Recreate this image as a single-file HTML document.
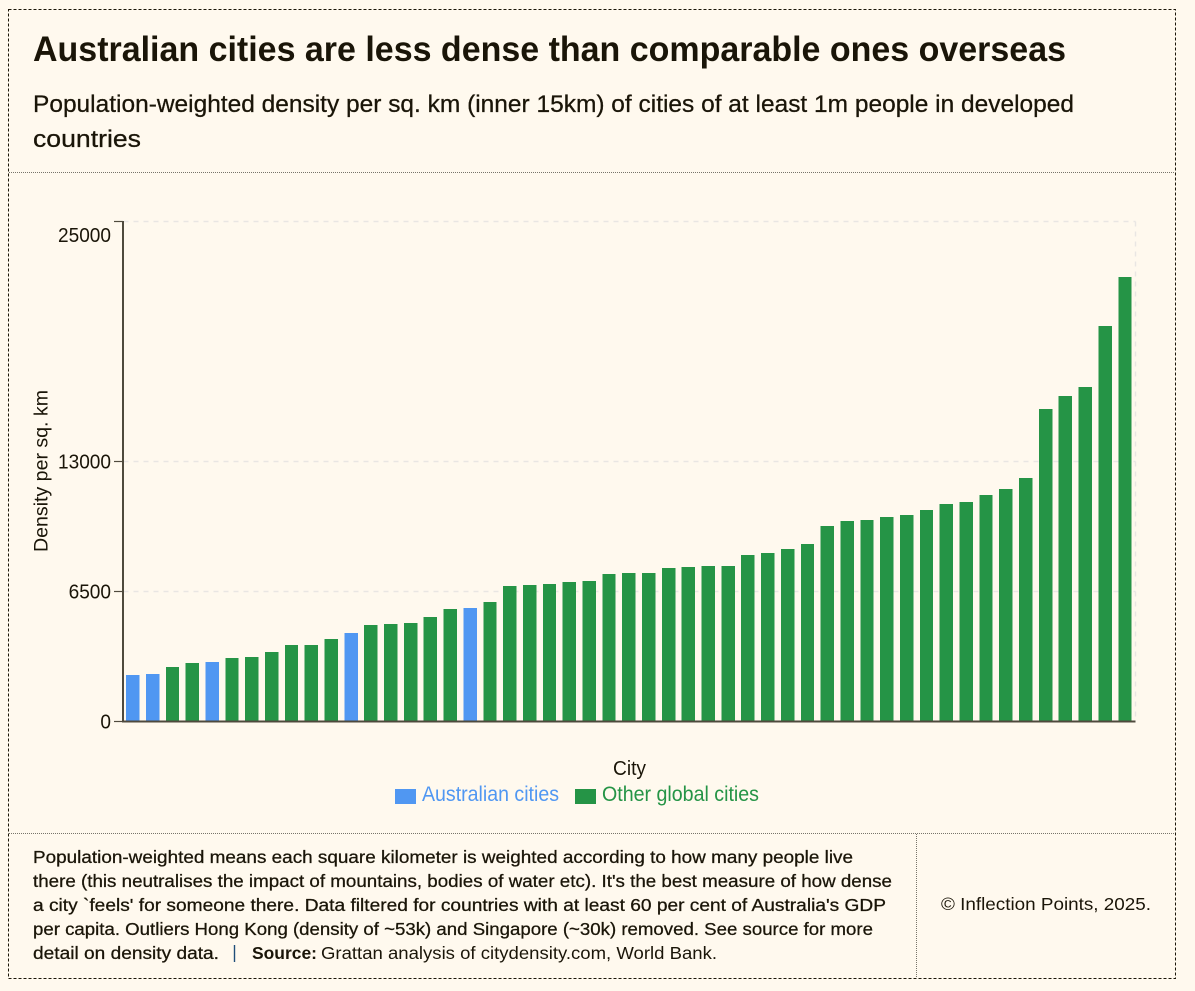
<!DOCTYPE html>
<html lang="en">
<head>
<meta charset="utf-8">
<title>Australian cities are less dense than comparable ones overseas</title>
<style>
html,body{margin:0;padding:0;background:#fff9ee;width:1195px;height:991px;overflow:hidden}
svg{display:block}
text{font-family:"Liberation Sans",sans-serif;fill:#1a1508}
.med{stroke:#1a1508;stroke-width:.28px}
</style>
</head>
<body>
<svg id="page" xmlns="http://www.w3.org/2000/svg" width="1195" height="991" viewBox="0 0 1195 991">
  <rect x="0" y="0" width="1195" height="991" fill="#fff9ee"/>
  <rect x="8.5" y="9.5" width="1167" height="969" fill="none" stroke="#1a1508" stroke-width="1" stroke-dasharray="3 2"/>
  <line x1="9" x2="1175" y1="172.5" y2="172.5" stroke="#77746a" stroke-width="1" stroke-dasharray="1 1"/>
  <line x1="9" x2="1175" y1="833.5" y2="833.5" stroke="#77746a" stroke-width="1" stroke-dasharray="1 1"/>
  <line x1="916.5" x2="916.5" y1="834" y2="978" stroke="#77746a" stroke-width="1" stroke-dasharray="1 1"/>

  <text x="33" y="61" font-size="35" font-weight="700" textLength="1033" lengthAdjust="spacingAndGlyphs">Australian cities are less dense than comparable ones overseas</text>
  <text class="med" x="33" y="112" font-size="24.5" textLength="1041" lengthAdjust="spacingAndGlyphs">Population-weighted density per sq. km (inner 15km) of cities of at least 1m people in developed</text>
  <text class="med" x="33" y="147" font-size="24.5" textLength="108" lengthAdjust="spacingAndGlyphs">countries</text>

  <g id="grid"></g>
  <g id="bars"></g>
  <g id="axes"></g>

  <text transform="translate(47.5,471) rotate(-90)" text-anchor="middle" font-size="19.5" textLength="162" lengthAdjust="spacingAndGlyphs">Density per sq. km</text>
  <text x="613" y="775" font-size="20" textLength="33" lengthAdjust="spacingAndGlyphs">City</text>

  <g>
    <rect x="395" y="789" width="21" height="15" fill="#5097f2"/>
    <text x="422" y="801" font-size="21" style="fill:#5097f2" textLength="137" lengthAdjust="spacingAndGlyphs">Australian cities</text>
    <rect x="575" y="789" width="21" height="15" fill="#259446"/>
    <text x="602" y="801" font-size="21" style="fill:#259446" textLength="157" lengthAdjust="spacingAndGlyphs">Other global cities</text>
  </g>

  <g font-size="17.6">
    <text class="med" x="33" y="863" textLength="820" lengthAdjust="spacingAndGlyphs">Population-weighted means each square kilometer is weighted according to how many people live</text>
    <text class="med" x="33" y="887" textLength="859" lengthAdjust="spacingAndGlyphs">there (this neutralises the impact of mountains, bodies of water etc). It's the best measure of how dense</text>
    <text class="med" x="33" y="911" textLength="853" lengthAdjust="spacingAndGlyphs">a city `feels' for someone there. Data filtered for countries with at least 60 per cent of Australia's GDP</text>
    <text class="med" x="33" y="935" textLength="840" lengthAdjust="spacingAndGlyphs">per capita. Outliers Hong Kong (density of ~53k) and Singapore (~30k) removed. See source for more</text>
    <text class="med" x="33" y="959" textLength="186" lengthAdjust="spacingAndGlyphs">detail on density data.</text>
    <line x1="234.5" x2="234.5" y1="945" y2="962" stroke="#1f4e79" stroke-width="1.4"/>
    <text x="252" y="959" font-weight="700" textLength="65" lengthAdjust="spacingAndGlyphs">Source:</text>
    <text x="321" y="959" textLength="396" lengthAdjust="spacingAndGlyphs">Grattan analysis of citydensity.com, World Bank.</text>
  </g>
  <text x="941" y="910" font-size="17.6" textLength="210" lengthAdjust="spacingAndGlyphs">© Inflection Points, 2025.</text>
</svg>
<script>
var densityValues = [2325,2375,2725,2925,2975,3175,3225,3475,3825,3825,4125,4425,4825,4875,4925,5225,5625,5675,5975,
  6775,6825,6875,6975,7025,7375,7425,7425,7675,7725,7775,7775,8325,8425,8625,8875,9775,10025,10075,10225,10325,
  10575,10875,10975,11325,11625,12175,15625,16275,16725,19775,22225];
var australianFlags = [1,1,0,0,1,0,0,0,0,0,0,1,0,0,0,0,0,1,0,0,0,0,0,0,0,0,0,0,0,0,0,0,0,0,0,0,0,0,0,0,0,0,0,0,0,0,0,0,0,0,0];
var yTickValues = [0,6500,13000,25000];
var yMax = 25000;

var NS = 'http://www.w3.org/2000/svg';
var left = 123.5, right = 1135.5, top_ = 221.5, bottom = 721.5;
var band = (right - left) / densityValues.length;
function yScale(v) { return bottom - (v / yMax) * (bottom - top_); }
function xScale(i) { return left + i * band + 2.6; }
function make(tag, attrs, parent) {
  var el = document.createElementNS(NS, tag);
  for (var k in attrs) el.setAttribute(k, attrs[k]);
  parent.appendChild(el);
  return el;
}
var grid = document.getElementById('grid');
var barsG = document.getElementById('bars');
var axes = document.getElementById('axes');

yTickValues.forEach(function (t) {
  if (t === 0) return;
  var g = make('line', {x1: left, x2: right, y1: yScale(t), y2: yScale(t), stroke: '#e9e6e3', 'stroke-width': 1.4, 'stroke-dasharray': '5 5'}, grid);
  
  
});
var vg = make('line', {x1: right, x2: right, y1: top_, y2: bottom, stroke: '#e9e6e3', 'stroke-width': 1.4, 'stroke-dasharray': '5 5'}, grid);



densityValues.forEach(function (v, i) {
  var y = yScale(v);
  var r = make('rect', {x: xScale(i), y: y, width: band * 0.675, height: 722 - y, fill: australianFlags[i] ? '#5097f2' : '#259446', 'shape-rendering': 'crispEdges'}, barsG);
  
  
});

var yAxis = make('line', {x1: 123, x2: 123, y1: top_ - 0.5, y2: bottom + 1, stroke: '#4f4a3d', 'stroke-width': 2}, axes);


var xAxis = make('line', {x1: 122, x2: right, y1: bottom, y2: bottom, stroke: '#4f4a3d', 'stroke-width': 2}, axes);



yTickValues.forEach(function (t) {
  var y = yScale(t);
  var tick = make('line', {x1: 114, x2: 123, y1: y, y2: y, stroke: '#4f4a3d', 'stroke-width': 1.2}, axes);
  
  
  var text = String(t);
  var label = make('text', {x: 111, y: y + (t === yMax ? 20.5 : 7), 'text-anchor': 'end', 'font-size': 20.5, textLength: text.length * 10.6, lengthAdjust: 'spacingAndGlyphs'}, axes);
  label.textContent = text;
  
  
});
</script>
</body>
</html>
